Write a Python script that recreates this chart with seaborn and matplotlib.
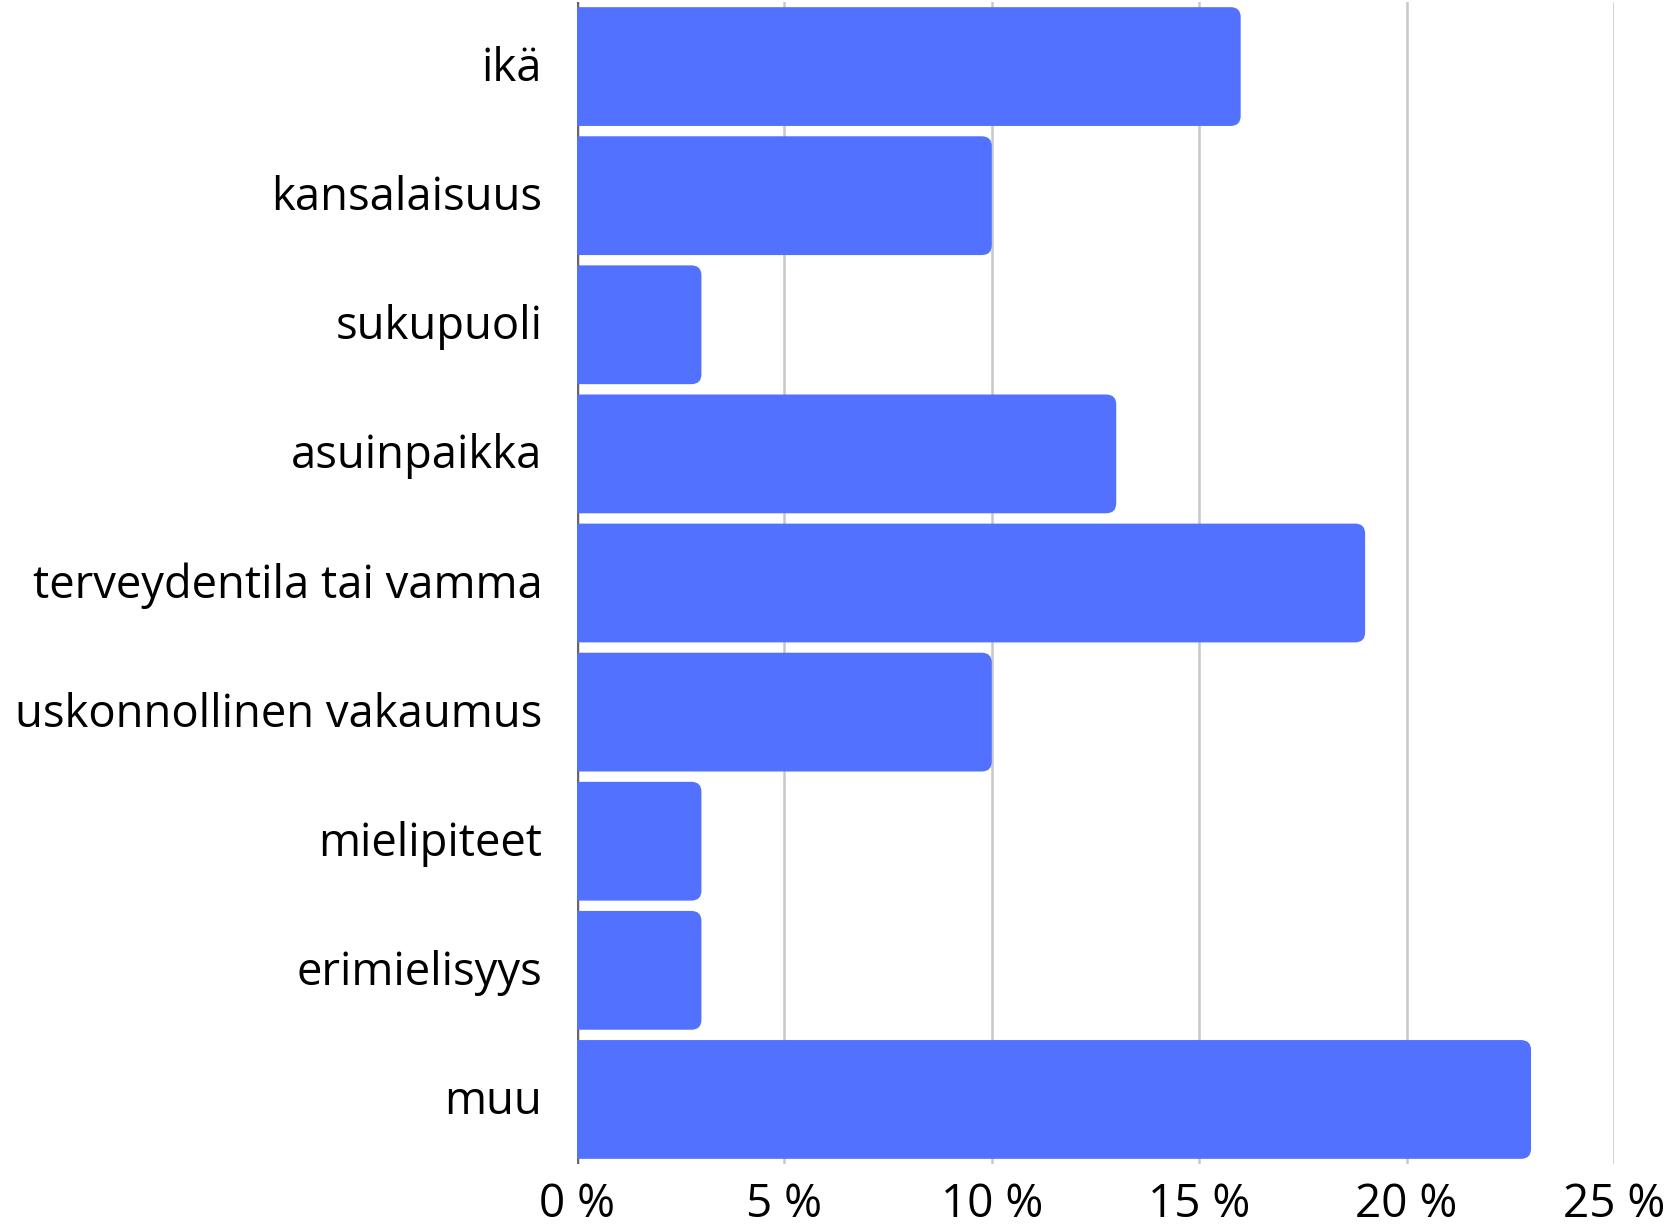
import matplotlib
matplotlib.use("Agg")
import matplotlib.pyplot as plt
import matplotlib.transforms as mtransforms
import seaborn as sns
import pandas as pd
from matplotlib.patches import FancyBboxPatch

categories = ["ikä", "kansalaisuus", "sukupuoli", "asuinpaikka",
              "terveydentila tai vamma", "uskonnollinen vakaumus",
              "mielipiteet", "erimielisyys", "muu"]
values = [16, 10, 3, 13, 19, 10, 3, 3, 23]
xticks = [0, 5, 10, 15, 20, 25]
xtick_labels = ["0 %", "5 %", "10 %", "15 %", "20 %", "25 %"]

sns.set_theme(style="white")
plt.rcParams['font.family'] = ['Open Sans', 'DejaVu Sans']

df = pd.DataFrame({"kategoria": categories, "osuus": values})

W, H = 1681, 1224
fig = plt.figure(figsize=(W / 100, H / 100), dpi=100)
ax = fig.add_axes([577 / W, 1 - 1164 / H, (1614 - 577) / W, (1164 - 2) / H])

bar_color = "#5271FF"
sns.barplot(data=df, y="kategoria", x="osuus", orient="h", color=bar_color,
            width=0.92, saturation=1, ax=ax, zorder=3)

ax.set_xlim(0, 25)
ax.set_ylim(8.5, -0.5)
ax.set_xticks(xticks)
ax.set_xticklabels(xtick_labels)
ax.set_xlabel("")
ax.set_ylabel("")

ax.grid(axis="x", color="#C8C8C8", linewidth=1.8, zorder=0)
ax.grid(axis="y", visible=False)
ax.set_axisbelow(True)
for s in ["top", "right", "bottom", "left"]:
    ax.spines[s].set_visible(False)
ax.axvline(0, color="#666666", linewidth=2.5, zorder=1)

ax.tick_params(axis="y", length=0, pad=25, labelsize=32.7, labelcolor="black")
ax.tick_params(axis="x", length=0, pad=13, labelsize=33, labelcolor="black")

# nudge y labels up slightly
offset = mtransforms.ScaledTranslation(0, 3 / 100, fig.dpi_scale_trans)
for lab in ax.get_yticklabels():
    lab.set_transform(lab.get_transform() + offset)

# rounded right corners
fig.canvas.draw()
px_per_x = ax.transData.transform((1, 0))[0] - ax.transData.transform((0, 0))[0]
px_per_y = abs(ax.transData.transform((0, 1))[1] - ax.transData.transform((0, 0))[1])
r_px = 10
rx = r_px / px_per_x
aspect = px_per_x / px_per_y
patches = list(ax.patches)
for p in patches:
    x, y = p.get_x(), p.get_y()
    w, h = p.get_width(), p.get_height()
    p.remove()
    fb = FancyBboxPatch((x - 3 * rx, y), w + 3 * rx, h,
                        boxstyle=f"round,pad=0,rounding_size={rx}",
                        mutation_aspect=aspect,
                        facecolor=bar_color, edgecolor="none", zorder=3)
    ax.add_patch(fb)

fig.savefig("out.png", dpi=100)
